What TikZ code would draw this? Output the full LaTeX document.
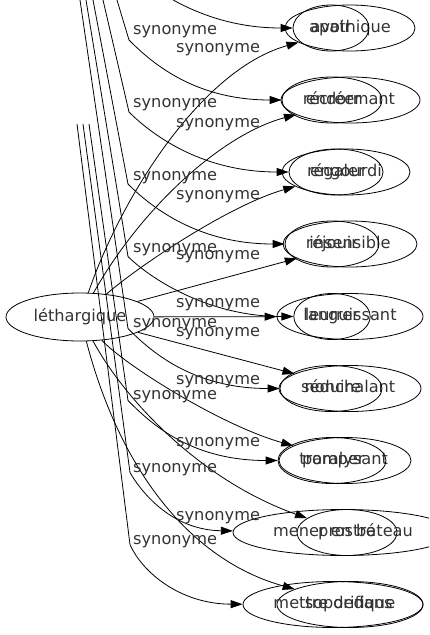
\documentclass[tikz,border=0pt]{standalone}
\usepackage{fontspec}
\setmainfont{DejaVu Sans}
\usetikzlibrary{shapes.geometric,arrows.meta}
\definecolor{txt}{HTML}{333333}
\begin{document}
\begin{tikzpicture}[x=1pt,y=-1pt,
  nd/.style={draw,ellipse,line width=0.8pt,inner sep=0pt,minimum height=46pt,text=txt,
    text height=12pt,text depth=3.8pt,font=\fontsize{16.2}{19}\selectfont},
  lbl/.style={anchor=mid west,inner sep=0pt,text=txt,font=\fontsize{16.2}{19}\selectfont},
  syn/.style={draw,line width=0.8pt,-{Triangle[length=12pt,width=8pt]}}]
\useasboundingbox (0,0) rectangle (429,635);
\clip (0,0) rectangle (429,635);
% central node
\node[nd,minimum width=148pt,minimum height=48pt] (L) at (80,317) {léthargique};
% right column, set B
\node[nd,minimum width=130pt] (B1) at (350,28) {apathique};
\node[nd,minimum width=139pt] (B2) at (350.5,100) {endormant};
\node[nd,minimum width=128pt] (B3) at (346,172) {engourdi};
\node[nd,minimum width=134pt] (B4) at (350,244) {insensible};
\node[nd,minimum width=146pt] (B5) at (350,316.5) {languissant};
\node[nd,minimum width=142pt] (B6) at (350,388.5) {nonchalant};
\node[nd,minimum width=132pt] (B7) at (345,460.5) {paralysant};
\node[nd,minimum width=100pt] (B8) at (347,532.5) {prostré};
\node[nd,minimum width=146pt] (B9) at (350,604.5) {soporifique};
% right column, set A
\node[nd,minimum width=76pt] (A1) at (331,28) {avoir};
\node[nd,minimum width=100pt] (A2) at (332,100) {récréer};
\node[nd,minimum width=94pt] (A3) at (336,172) {régaler};
\node[nd,minimum width=94pt] (A4) at (332,244) {réjouir};
\node[nd,minimum width=72pt] (A5) at (332,316.5) {leurrer};
\node[nd,minimum width=102pt] (A6) at (331,388.5) {séduire};
\node[nd,minimum width=108pt] (A7) at (332,460.5) {tromper};
\node[nd,minimum width=220pt] (A8) at (343,532.5) {mener en bateau};
\node[nd,minimum width=180pt] (A9) at (333,604.5) {mettre dedans};
% edges from léthargique
\draw[syn] (L) .. controls (120,200) and (200,70) .. (B1);
\draw[syn] (L) .. controls (140,210) and (220,135) .. (B2);
\draw[syn] (L) .. controls (140,265) and (230,205) .. (B3);
\draw[syn] (L) -- (B4);
\draw[syn] (L) -- (B5);
\draw[syn] (L) -- (B6);
\draw[syn] (L) .. controls (125,365) and (220,425) .. (B7);
\draw[syn] (L) .. controls (125,400) and (200,480) .. (B8);
\draw[syn] (L) .. controls (120,470) and (190,560) .. (B9);
% edges coming from above
\coordinate (sA1) at (140,-120); \coordinate (kA1) at (130,-32);
\coordinate (sA2) at (117,0);    \coordinate (kA2) at (129,40);
\coordinate (sA3) at (103,0);    \coordinate (kA3) at (129,112);
\coordinate (sA4) at (93,0);     \coordinate (kA4) at (128,184);
\coordinate (sA5) at (86,0);     \coordinate (kA5) at (128,256.5);
\coordinate (sA6) at (80,0);     \coordinate (kA6) at (128,328.5);
\coordinate (sA7) at (89,124);   \coordinate (kA7) at (128,400.5);
\coordinate (sA8) at (83,124);   \coordinate (kA8) at (130,472.5);
\coordinate (sA9) at (77,124);   \coordinate (kA9) at (130,544.5);
\draw[syn] (sA1) -- (kA1) .. controls (150,-12) and (203,28) .. (A1);
\draw[syn] (sA2) -- (kA2) .. controls (149,60) and (192,100) .. (A2);
\draw[syn] (sA3) -- (kA3) .. controls (149,132) and (199,172) .. (A3);
\draw[syn] (sA4) -- (kA4) .. controls (148,204) and (195,244) .. (A4);
\draw[syn] (sA5) -- (kA5) .. controls (148,276.5) and (206,316.5) .. (A5);
\draw[syn] (sA6) -- (kA6) .. controls (148,348.5) and (190,388.5) .. (A6);
\draw[syn] (sA7) -- (kA7) .. controls (148,420.5) and (188,460.5) .. (A7);
\draw[syn] (sA8) -- (kA8) .. controls (140,490) and (170,530) .. (A8);
\draw[syn] (sA9) -- (kA9) .. controls (142,572) and (180,604) .. (A9);
% labels, left column
\node[lbl] (lA2) at (133,32) {synonyme};
\node[lbl] (lA3) at (133,105) {synonyme};
\node[lbl] (lA4) at (133,178) {synonyme};
\node[lbl] (lA5) at (133,250) {synonyme};
\node[lbl] (lA6) at (133,325) {synonyme};
\node[lbl] (lA7) at (133,397) {synonyme};
\node[lbl] (lA8) at (133,470) {synonyme};
\node[lbl] (lA9) at (133,542) {synonyme};
% labels, right column
\node[lbl] (lB1) at (176,50) {synonyme};
\node[lbl] (lB2) at (176,125) {synonyme};
\node[lbl] (lB3) at (176,197) {synonyme};
\node[lbl] (lB4) at (176,257) {synonyme};
\node[lbl] (lB5) at (176,305) {synonyme};
\node[lbl] (lB6) at (176,334) {synonyme};
\node[lbl] (lB7) at (176,382) {synonyme};
\node[lbl] (lB8) at (176,444) {synonyme};
\node[lbl] (lB9) at (176,518) {synonyme};
\end{tikzpicture}
\end{document}
